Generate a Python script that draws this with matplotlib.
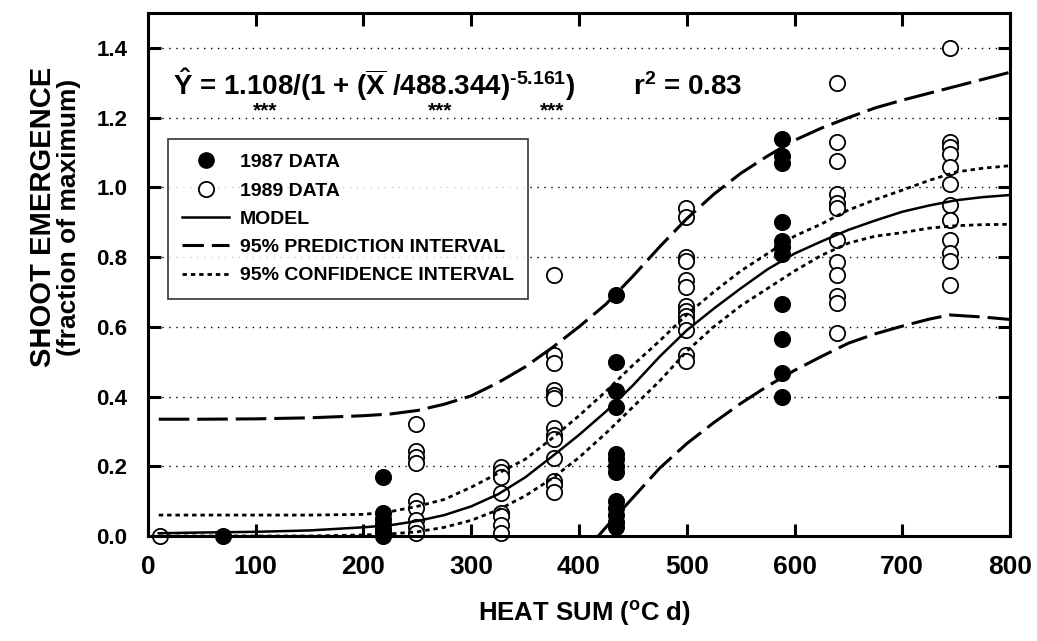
import matplotlib
matplotlib.use("Agg")
import matplotlib.pyplot as plt
from matplotlib.lines import Line2D

plt.rcParams['font.family'] = ['Liberation Sans', 'DejaVu Sans']
plt.rcParams['font.weight'] = 'bold'
plt.rcParams['mathtext.fontset'] = 'custom'
plt.rcParams['mathtext.rm'] = 'Liberation Sans:bold'
plt.rcParams['mathtext.bf'] = 'Liberation Sans:bold'
plt.rcParams['mathtext.it'] = 'Liberation Sans:bold'

# ---------------- data ----------------
x_1987 = [70, 218, 434, 588]
y_1987 = [
    [0.0],
    [0.17, 0.065, 0.05, 0.035, 0.02, 0.01, 0.0],
    [0.69, 0.50, 0.415, 0.37, 0.235, 0.22, 0.20, 0.185, 0.10, 0.08, 0.06, 0.04, 0.025],
    [1.14, 1.09, 1.07, 0.90, 0.845, 0.83, 0.81, 0.665, 0.565, 0.467, 0.40],
]
x_1989 = [11, 249, 328, 377, 499, 639, 744]
y_1989 = [
    [0.0],
    [0.32, 0.245, 0.228, 0.21, 0.099, 0.08, 0.046, 0.025, 0.008],
    [0.197, 0.183, 0.17, 0.123, 0.065, 0.057, 0.032, 0.01],
    [0.75, 0.52, 0.497, 0.42, 0.405, 0.395, 0.31, 0.29, 0.278, 0.225, 0.158, 0.145, 0.125],
    [0.94, 0.915, 0.80, 0.79, 0.735, 0.713, 0.66, 0.645, 0.63, 0.616, 0.59, 0.52, 0.502],
    [1.30, 1.13, 1.075, 0.98, 0.956, 0.94, 0.85, 0.785, 0.75, 0.687, 0.668, 0.583],
    [1.40, 1.13, 1.115, 1.095, 1.057, 1.01, 0.95, 0.905, 0.85, 0.812, 0.79, 0.72],
]

curve_x = [10, 50, 100, 150, 200, 225, 250, 275, 300, 325, 350, 375, 400, 425, 450,
           475, 500, 525, 550, 575, 600, 625, 650, 675, 700, 725, 750, 775, 800]
model_y = [0.008, 0.01, 0.012, 0.016, 0.025, 0.031, 0.043, 0.06, 0.085, 0.12, 0.168, 0.228,
           0.29, 0.357, 0.432, 0.515, 0.59, 0.652, 0.71, 0.765, 0.81, 0.845, 0.878, 0.905,
           0.93, 0.948, 0.963, 0.972, 0.978]
ci_upper = [0.06, 0.06, 0.06, 0.06, 0.062, 0.07, 0.085, 0.105, 0.14, 0.18, 0.22, 0.28,
            0.345, 0.415, 0.49, 0.56, 0.635, 0.70, 0.76, 0.81, 0.86, 0.895, 0.935, 0.965,
            0.992, 1.02, 1.044, 1.055, 1.062]
ci_lower = [0.0, 0.0, 0.0, 0.0, 0.003, 0.006, 0.012, 0.025, 0.045, 0.075, 0.115, 0.165,
            0.225, 0.295, 0.37, 0.445, 0.53, 0.60, 0.66, 0.71, 0.76, 0.805, 0.84, 0.86,
            0.87, 0.883, 0.89, 0.893, 0.894]

pi_up_x = [10, 50, 100, 150, 200, 225, 250, 275, 300, 325, 350, 375, 400, 425, 450,
           475, 500, 525, 550, 575, 600, 625, 650, 675, 700, 725, 750, 775, 800]
pi_up_y = [0.335, 0.335, 0.336, 0.339, 0.345, 0.35, 0.36, 0.378, 0.402, 0.44, 0.485, 0.54,
           0.60, 0.665, 0.745, 0.83, 0.91, 0.98, 1.04, 1.09, 1.135, 1.17, 1.2, 1.228,
           1.25, 1.27, 1.29, 1.31, 1.33]
pi_lo_x = [418, 425, 450, 475, 500, 525, 550, 575, 600, 625, 650, 675, 700, 725, 744, 775, 800]
pi_lo_y = [0.0, 0.025, 0.11, 0.195, 0.265, 0.325, 0.38, 0.43, 0.475, 0.515, 0.553, 0.58,
           0.602, 0.622, 0.634, 0.628, 0.621]

x_ticks = [0, 100, 200, 300, 400, 500, 600, 700, 800]
y_ticks = [0.0, 0.2, 0.4, 0.6, 0.8, 1.0, 1.2, 1.4]

# ---------------- figure ----------------
fig = plt.figure(figsize=(10.37, 6.41), dpi=100)
ax = fig.add_axes([0.1427, 0.1638, 0.8313, 0.8159])
ax.set_xlim(0, 800)
ax.set_ylim(0, 1.5)

for yv in y_ticks[1:]:
    ax.axhline(yv, color='black', lw=1.0, ls=(0, (1, 4)), zorder=0)

for xv, ys in zip(x_1989, y_1989):
    ax.plot([xv] * len(ys), ys, ls='none', marker='o', ms=11, mfc='white',
            mec='black', mew=1.3, zorder=2, clip_on=False)
for xv, ys in zip(x_1987, y_1987):
    ax.plot([xv] * len(ys), ys, ls='none', marker='o', ms=11, mfc='black',
            mec='black', mew=1.3, zorder=2, clip_on=False)

ax.plot(curve_x, model_y, color='black', lw=1.8, zorder=3)
ax.plot(curve_x, ci_upper, color='black', lw=2.0, ls=(0, (1.6, 1.4)), zorder=3)
ax.plot(curve_x, ci_lower, color='black', lw=2.0, ls=(0, (1.6, 1.4)), zorder=3)
ax.plot(pi_up_x, pi_up_y, color='black', lw=2.2, ls=(0, (10, 2.6)), zorder=3)
ax.plot(pi_lo_x, pi_lo_y, color='black', lw=2.2, ls=(0, (10, 2.6)), zorder=3)

ax.set_xticks(x_ticks)
ax.set_xticklabels([str(v) for v in x_ticks])
ax.set_yticks(y_ticks)
ax.set_yticklabels([f"{v:.1f}" for v in y_ticks])
ax.tick_params(direction='in', length=9, width=2.2, top=True, right=True)
ax.tick_params(axis='x', labelsize=19, pad=14)
ax.tick_params(axis='y', labelsize=16, pad=15)
for lab in ax.get_xticklabels() + ax.get_yticklabels():
    lab.set_fontweight('bold')
for sp in ax.spines.values():
    sp.set_linewidth(2.2)

# equation
eq = (r'$\hat{\mathbf{Y}}$ = 1.108/(1 + ($\overline{\mathbf{X}}$ /488.344)$^{\mathbf{'
      + '\u2010' + r'5.161}}$)')
ax.text(23, 1.265, eq, fontsize=20, fontweight='bold', va='baseline', ha='left')
ax.text(450, 1.265, r'r$^{\mathbf{2}}$ = 0.83', fontsize=20, fontweight='bold',
        va='baseline', ha='left')
for sx in [109, 271, 375]:
    ax.text(sx, 1.22, '***', fontsize=15, fontweight='bold', ha='center', va='center')

# legend
handles = [
    Line2D([], [], ls='none', marker='o', ms=11, mfc='black', mec='black'),
    Line2D([], [], ls='none', marker='o', ms=11, mfc='white', mec='black', mew=1.3),
    Line2D([], [], color='black', lw=1.8),
    Line2D([], [], color='black', lw=2.2, ls=(0, (7, 2.6))),
    Line2D([], [], color='black', lw=2.0, ls=(0, (1.6, 1.4))),
]
labels = ['1987 DATA', '1989 DATA', 'MODEL', '95% PREDICTION INTERVAL', '95% CONFIDENCE INTERVAL']
leg = ax.legend(handles, labels, loc='upper left', bbox_to_anchor=(0.023, 0.759),
                borderaxespad=0, frameon=True, fancybox=False, edgecolor='black',
                prop={'weight': 'bold', 'size': 14}, handlelength=2.4,
                labelspacing=0.55, borderpad=0.75, handletextpad=0.55)
leg.get_frame().set_linewidth(1.2)
leg.set_zorder(5)

fig.text(0.041, 0.661, 'SHOOT EMERGENCE', rotation=90, fontsize=21,
         fontweight='bold', ha='center', va='center')
fig.text(0.067, 0.661, '(fraction of maximum)', rotation=90, fontsize=19,
         fontweight='bold', ha='center', va='center')
fig.text(0.564, 0.043, 'HEAT SUM ($^{\\mathbf{o}}$C d)', fontsize=18.5,
         fontweight='bold', ha='center', va='center')

fig.savefig('out.png', dpi=100)
